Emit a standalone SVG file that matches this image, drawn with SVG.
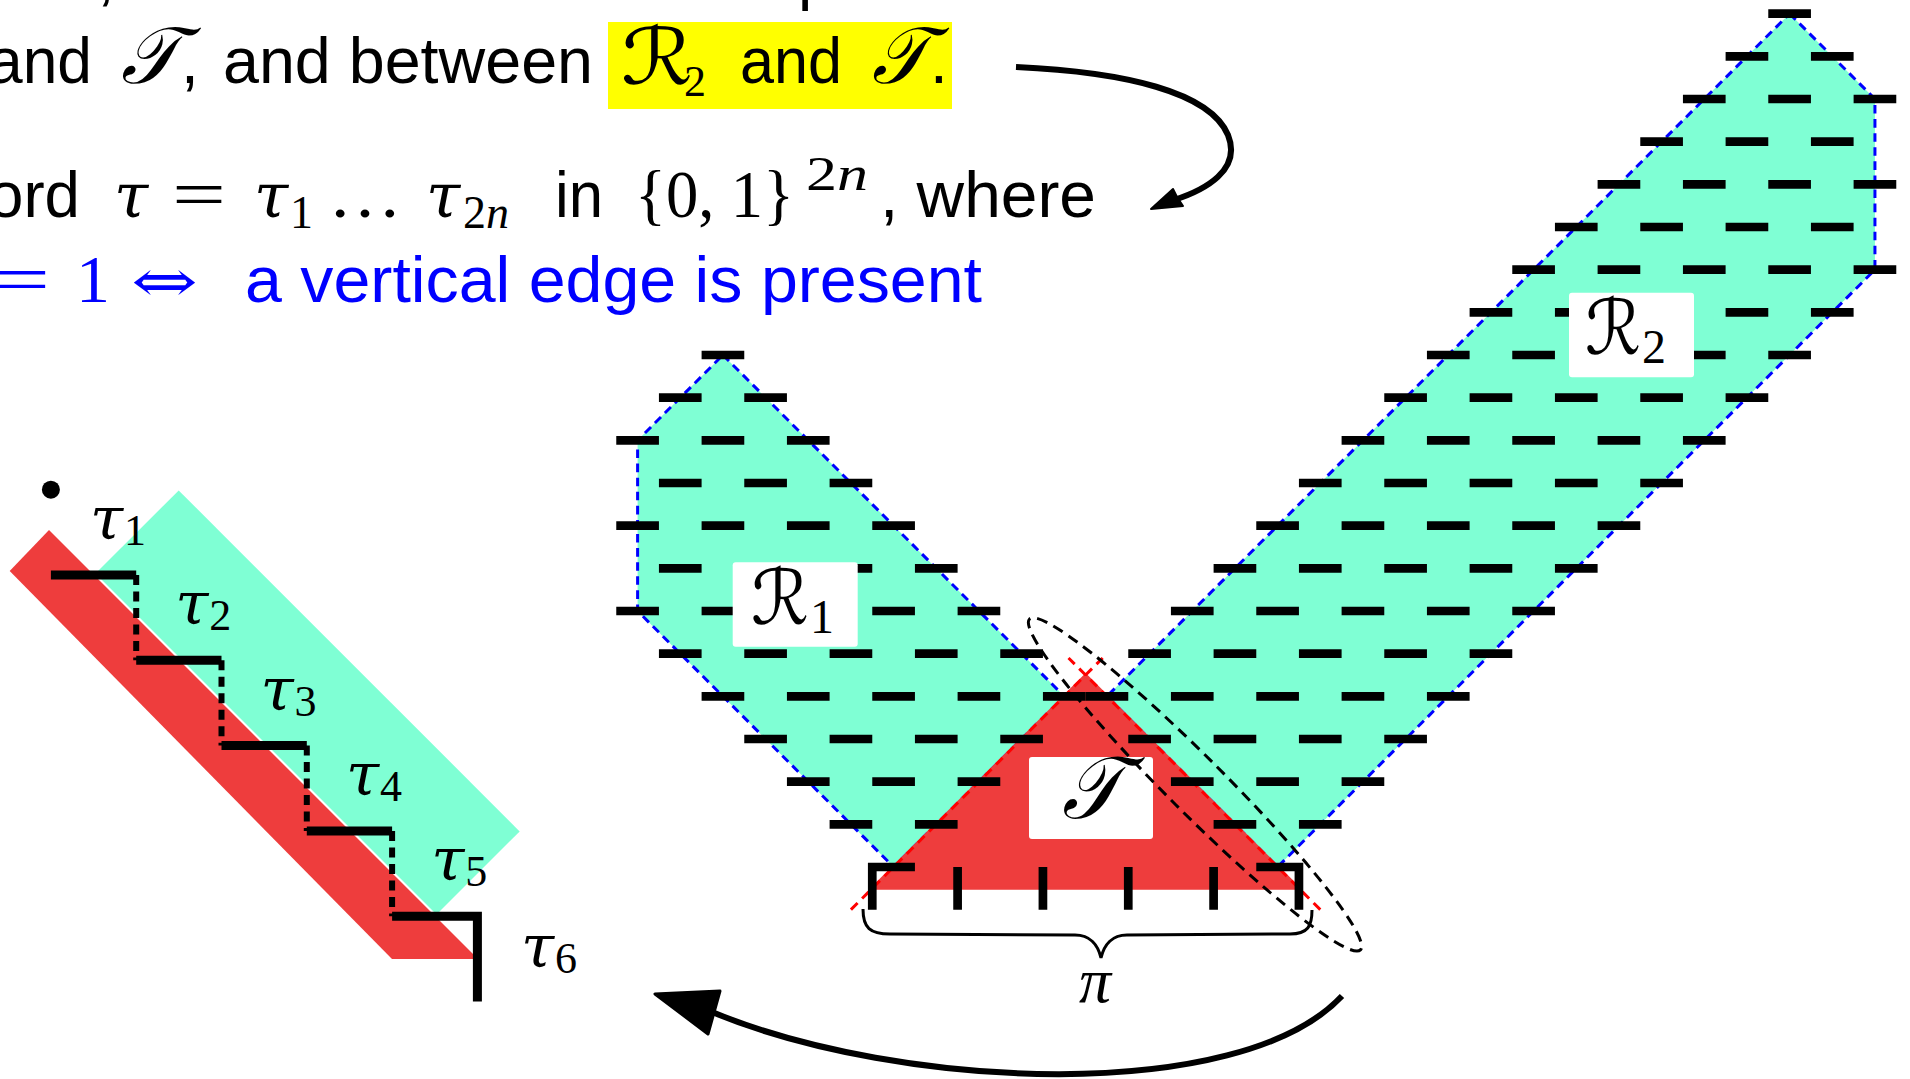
<svg xmlns="http://www.w3.org/2000/svg" width="1910" height="1079" viewBox="0 0 1910 1079">
<defs>
<style>
.t{font-family:"Liberation Sans",Arial,sans-serif;font-size:64px;fill:#000}
.mi{font-family:"Liberation Serif","Times New Roman",serif;font-style:italic}
.gk{font-family:"DejaVu Serif","Liberation Serif",serif;font-style:italic}
.rm{font-family:"Liberation Serif","Times New Roman",serif}
.cal{font-family:"DejaVu Serif","DejaVu Sans",serif}
.blue{fill:#0000ff}
.green{fill:#7fffd4}
.red{fill:#ee3d3d}
.reg{fill:#7fffd4;stroke:#0000ff;stroke-width:0.07;stroke-dasharray:0.2 0.13}
.dash{fill:none;stroke:#000;stroke-width:0.204;stroke-linecap:butt;stroke-linejoin:miter}
.box{fill:#fff}
.arrow{fill:none;stroke:#000;stroke-width:6}
</style>
</defs>

<g id="text-lines">
  <text class="t" x="97" y="-2">,</text>
  <text class="t" x="798" y="-2">p</text>
  <text class="t" x="-12" y="83" textLength="104" lengthAdjust="spacingAndGlyphs">and</text>
  <text class="cal" x="121" y="83" font-size="80" font-style="italic" textLength="58" lengthAdjust="spacingAndGlyphs">𝒯</text>
  <text class="t" x="181" y="83">,</text>
  <text class="t" x="223" y="83" textLength="370" lengthAdjust="spacingAndGlyphs">and between</text>
  <rect x="608" y="22" width="344" height="87" fill="#ffff00"/>
  <text class="cal" x="621" y="84" font-size="78" textLength="72" lengthAdjust="spacingAndGlyphs">ℛ</text>
  <text class="rm" x="684" y="96" font-size="44">2</text>
  <text class="t" x="740" y="83" textLength="102" lengthAdjust="spacingAndGlyphs">and</text>
  <text class="cal" x="872" y="83" font-size="80" font-style="italic" textLength="56" lengthAdjust="spacingAndGlyphs">𝒯</text>
  <text class="t" x="930" y="83">.</text>

  <text class="t" x="-12" y="217" textLength="92" lengthAdjust="spacingAndGlyphs">ord</text>
  <text class="gk" x="114" y="217" font-size="62">τ</text>
  <text class="rm" x="172" y="217" font-size="68" textLength="54" lengthAdjust="spacingAndGlyphs">=</text>
  <text class="gk" x="254" y="217" font-size="62">τ</text>
  <text class="rm" x="290" y="228" font-size="46">1</text>
  <text class="rm" x="328" y="217" font-size="68" textLength="74" lengthAdjust="spacingAndGlyphs">…</text>
  <text class="gk" x="426" y="217" font-size="62">τ</text>
  <text class="rm" x="463" y="228" font-size="46">2<tspan class="mi">n</tspan></text>
  <text class="t" x="555" y="217" textLength="48" lengthAdjust="spacingAndGlyphs">in</text>
  <text class="rm" x="635" y="217" font-size="68" textLength="159" lengthAdjust="spacingAndGlyphs">{0, 1}</text>
  <text class="rm" x="806" y="190" font-size="48" textLength="62" lengthAdjust="spacingAndGlyphs">2<tspan class="mi">n</tspan></text>
  <text class="t" x="880" y="217" textLength="216" lengthAdjust="spacingAndGlyphs">, where</text>

  <text class="rm blue" x="-6" y="302" font-size="68" textLength="56" lengthAdjust="spacingAndGlyphs">=</text>
  <text class="rm blue" x="76" y="302" font-size="68">1</text>
  <text class="cal blue" x="131" y="302" font-size="60" textLength="67" lengthAdjust="spacingAndGlyphs">⇔</text>
  <text class="t blue" x="245" y="302" textLength="737" lengthAdjust="spacingAndGlyphs">a vertical edge is present</text>
</g>

<g id="left-figure">
  <polygon class="green" points="178.7,490.4 519.7,831.4 436.5,914.5 95.5,573.5"/>
  <polygon class="red" points="49,530 478,959 392,959 9.7,571"/>
  <circle cx="50.9" cy="489.7" r="9" fill="#000"/>
  <path d="M50.9 575H136.2M136.2 660.3H221.5M221.5 745.6H306.8M306.8 830.9H392.1M392.1 916.2H477.4V1001.5" fill="none" stroke="#000" stroke-width="9" stroke-linejoin="miter"/>
  <path d="M136.2 575V660.3M221.5 660.3V745.6M306.8 745.6V830.9M392.1 830.9V916.2" fill="none" stroke="#000" stroke-width="6" stroke-dasharray="10 6.5"/>
  <g class="gk" font-size="60">
    <text x="90" y="539">τ</text>
    <text x="175.3" y="624.3">τ</text>
    <text x="260.6" y="709.6">τ</text>
    <text x="345.9" y="794.9">τ</text>
    <text x="431.2" y="880.2">τ</text>
    <text x="521" y="967">τ</text>
  </g>
  <g class="rm" font-size="44">
    <text x="124" y="545">1</text>
    <text x="209.3" y="630.3">2</text>
    <text x="294.6" y="715.6">3</text>
    <text x="379.9" y="800.9">4</text>
    <text x="465.2" y="886.2">5</text>
    <text x="555" y="973">6</text>
  </g>
</g>

<g id="regions" transform="translate(701.6 355) scale(42.667)">
  <g id="R1-region"><polygon class="reg" points="0.5,0 8.5,8 4.5,12 -1.5,6 -1.5,2"/></g>
  <g id="R2-region"><polygon class="reg" points="25.5,-8 27.5,-6 27.5,-2 13.5,12 9.5,8"/></g>
  <g id="T-region">
    <polygon points="9,7.5 14,12.5 4,12.5" fill="#ee3d3d" stroke="#ee3d3d" stroke-width="0.07"/>
    <path d="M3.5 13L9.4 7.1M14.5 13L8.6 7.1" fill="none" stroke="#ff0000" stroke-width="0.07" stroke-dasharray="0.22 0.15"/>
  </g>
  <g id="tiles">
    <path class="dash" d="M0 0h1M-1 1h1M1 1h1M-2 2h1M0 2h1M2 2h1M-1 3h1M1 3h1M3 3h1M-2 4h1M0 4h1M2 4h1M4 4h1M-1 5h1M1 5h1M3 5h1M5 5h1M-2 6h1M0 6h1M2 6h1M4 6h1M6 6h1M-1 7h1M1 7h1M3 7h1M5 7h1M7 7h1M0 8h1M2 8h1M4 8h1M6 8h1M8 8h1M1 9h1M3 9h1M5 9h1M7 9h1M2 10h1M4 10h1M6 10h1M3 11h1M5 11h1"/>
    <path class="dash" d="M25 -8h1M24 -7h1M26 -7h1M23 -6h1M25 -6h1M27 -6h1M22 -5h1M24 -5h1M26 -5h1M21 -4h1M23 -4h1M25 -4h1M27 -4h1M20 -3h1M22 -3h1M24 -3h1M26 -3h1M19 -2h1M21 -2h1M23 -2h1M25 -2h1M27 -2h1M18 -1h1M20 -1h1M22 -1h1M24 -1h1M26 -1h1M17 0h1M19 0h1M21 0h1M23 0h1M25 0h1M16 1h1M18 1h1M20 1h1M22 1h1M24 1h1M15 2h1M17 2h1M19 2h1M21 2h1M23 2h1M14 3h1M16 3h1M18 3h1M20 3h1M22 3h1M13 4h1M15 4h1M17 4h1M19 4h1M21 4h1M12 5h1M14 5h1M16 5h1M18 5h1M20 5h1M11 6h1M13 6h1M15 6h1M17 6h1M19 6h1M10 7h1M12 7h1M14 7h1M16 7h1M18 7h1M9 8h1M11 8h1M13 8h1M15 8h1M17 8h1M10 9h1M12 9h1M14 9h1M16 9h1M11 10h1M13 10h1M15 10h1M12 11h1M14 11h1"/>
    <path class="dash" d="M5 12H4V13M13 12H14V13M6 12V13M8 12V13M10 12V13M12 12V13"/>
  </g>
</g>

<g id="R1-label">
  <rect class="box" x="732.7" y="562.3" width="125" height="84.4" rx="3"/>
  <text class="cal" x="751" y="624" font-size="76" textLength="58" lengthAdjust="spacingAndGlyphs">ℛ</text>
  <text class="rm" x="810" y="633" font-size="48">1</text>
</g>
<g id="R2-label">
  <rect class="box" x="1569" y="292.7" width="125" height="84.6" rx="3"/>
  <text class="cal" x="1585" y="354" font-size="76" textLength="56" lengthAdjust="spacingAndGlyphs">ℛ</text>
  <text class="rm" x="1642" y="363" font-size="48">2</text>
</g>
<g id="T-label">
  <rect class="box" x="1029" y="757" width="124" height="82" rx="3"/>
  <text class="cal" x="1062" y="818" font-size="88" font-style="italic" textLength="60" lengthAdjust="spacingAndGlyphs">𝒯</text>
</g>

<g id="connectors">
  <ellipse cx="1195" cy="784.4" rx="234" ry="28" transform="rotate(45 1195 784.4)" fill="none" stroke="#000" stroke-width="3" stroke-dasharray="11 7"/>
  <path d="M863 909C863 928 870 934 890 934L1075 935C1090 935 1098 945 1101 958C1104 945 1112 935 1127 935L1290 934C1308 934 1312 926 1312 910" fill="none" stroke="#000" stroke-width="3"/>
  <path class="arrow" d="M1016 67C1125 72 1210 92 1228 135C1242 170 1205 190 1174 200"/>
  <polygon points="1151,209 1173,189 1177,197 1183,206" fill="#000" stroke="#000" stroke-width="2" stroke-linejoin="round"/>
  <path class="arrow" d="M1342 996C1240 1105 900 1090 712 1012"/>
  <polygon points="655,994 720,991 708,1034" fill="#000" stroke="#000" stroke-width="3" stroke-linejoin="round"/>
</g>
<text class="mi" x="1079" y="1002" font-size="64">π</text>
</svg>
